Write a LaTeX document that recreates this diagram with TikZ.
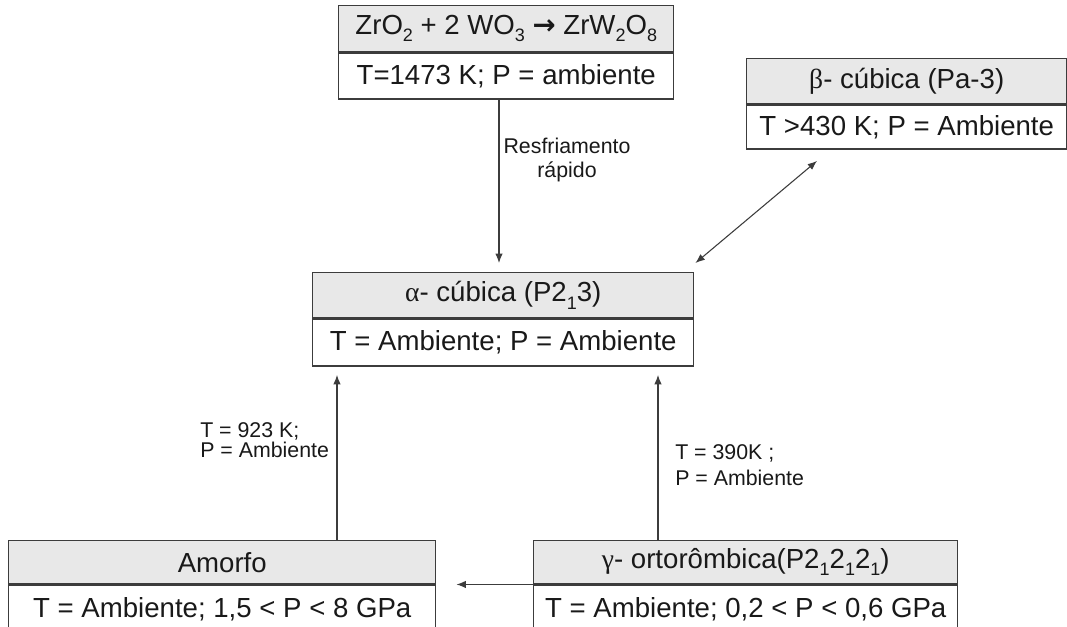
\documentclass[tikz,border=0pt]{standalone}
\usepackage{fontspec}
\setmainfont{Liberation Sans}
\newfontfamily\grk{Liberation Serif}
\newfontfamily\arrowfont{DejaVu Sans}
\usetikzlibrary{arrows.meta,calc}

\definecolor{hdrfill}{RGB}{232,232,232}
\definecolor{boxline}{RGB}{60,60,60}
\definecolor{txt}{RGB}{25,25,25}
\definecolor{wire}{RGB}{60,60,60}

% lowered subscript, as in the chemical formulas and space groups
\newcommand{\lowsub}[1]{\raisebox{-0.5ex}{\fontsize{13.5}{14}\selectfont #1}}

\tikzset{
  cell/.style 2 args={draw=boxline, line width=1.1pt, inner sep=0pt,
    anchor=north west, minimum width=#1*0.75pt, minimum height=#2*0.75pt,
    text=txt, font=\fontsize{20.7}{25}\selectfont},
  hdr/.style 2 args={cell={#1}{#2}, fill=hdrfill},
  bdy/.style 2 args={cell={#1}{#2}, fill=white},
  lbl/.style={text=txt, inner sep=0pt},
  arr/.style={draw=wire, line width=0.8pt, -{Latex[length=7pt,width=5.5pt]}},
  dblarr/.style={draw=wire, line width=0.8pt,
    {Latex[length=7pt,width=5.5pt]}-{Latex[length=7pt,width=5.5pt]}}
}

\begin{document}
\begin{tikzpicture}[x=0.75pt, y=-0.75pt]
  \useasboundingbox[fill=white] (0,0) rectangle (1067,627);

  % synthesis reaction
  \node[hdr={335}{46}] (rxnH) at (338,5)
    {ZrO\lowsub{2} + 2 WO\lowsub{3} {\arrowfont\bfseries →} ZrW\lowsub{2}O\lowsub{8}};
  \node[bdy={335}{46}] (rxnB) at (rxnH.south west) {T=1473 K; P = ambiente};

  % beta phase
  \node[hdr={320}{45}] (betaH) at (746,58) {{\grk β}- cúbica (Pa-3)};
  \node[bdy={320}{44}] (betaB) at (betaH.south west) {T >430 K; P = Ambiente};

  % alpha phase
  \node[hdr={381}{45}] (alphaH) at (312,272) {{\grk α}- cúbica (P2\lowsub{1}3)};
  \node[bdy={381}{47}] (alphaB) at (alphaH.south west) {T = Ambiente; P = Ambiente};

  % amorphous phase
  \node[hdr={427}{43}] (amH) at (8,540) {Amorfo};
  \node[bdy={427}{48}] (amB) at (amH.south west) {T = Ambiente; 1,5 < P < 8 GPa};

  % gamma phase
  \node[hdr={424}{43}] (gamH) at (533,540) {{\grk γ}- ortorômbica(P2\lowsub{1}2\lowsub{1}2\lowsub{1})};
  \node[bdy={424}{48}] (gamB) at (gamH.south west) {T = Ambiente; 0,2 < P < 0,6 GPa};

  % connectors
  \coordinate (xq) at (499,0);
  \coordinate (xa) at (337,0);
  \coordinate (xg) at (658,0);
  \draw[arr, shorten >=6.75pt] (rxnB.south -| xq) -- (alphaH.north -| xq);
  \draw[dblarr] ($(betaB.south west)+(71,11)$) -- ($(alphaH.north east)+(1,-9)$);
  \draw[arr, shorten >=6pt] (amH.north -| xa) -- (alphaB.south -| xa);
  \draw[arr, shorten >=6pt] (gamH.north -| xg) -- (alphaB.south -| xg);
  \draw[arr, shorten >=15pt] (gamH.south west) -- (amH.south east);

  % transition conditions
  \node[lbl, align=center, font=\fontsize{16}{17.5}\selectfont] (lq) at (567,160)
    {Resfriamento\\rápido};
  \node[lbl, align=left, anchor=west, font=\fontsize{16}{15}\selectfont] (la) at (200,440)
    {T = 923 K;\\P = Ambiente};
  \node[lbl, align=left, anchor=west, font=\fontsize{16}{19.5}\selectfont] (lg) at (675,465)
    {T = 390K ;\\P = Ambiente};
\end{tikzpicture}
\end{document}
